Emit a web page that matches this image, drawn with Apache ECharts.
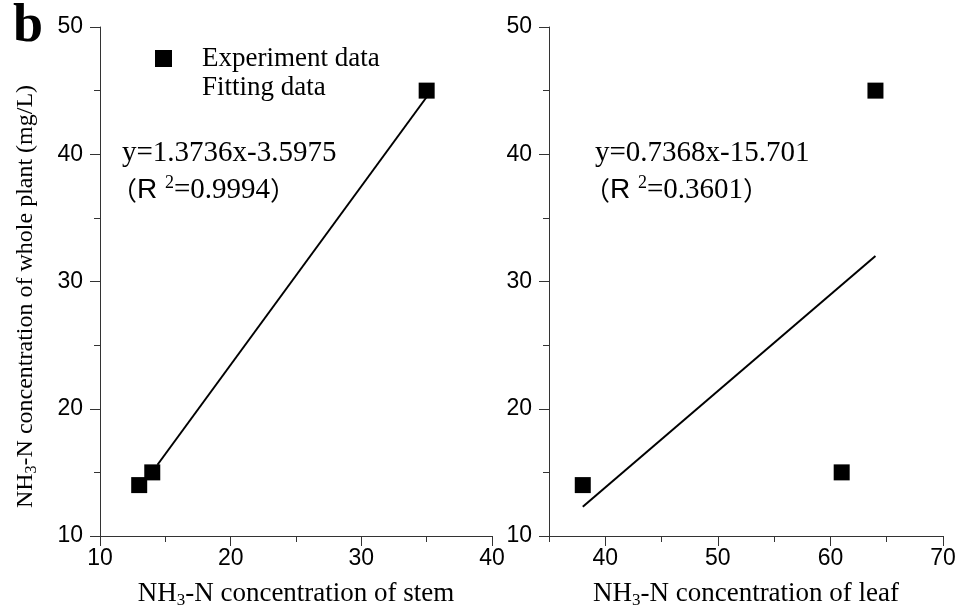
<!DOCTYPE html>
<html>
<head>
<meta charset="utf-8">
<script src="https://cdn.jsdelivr.net/npm/echarts@6/dist/echarts.min.js"></script>
<style>
    html, body { margin: 0; padding: 0; background: #fff; }
    #chart { width: 960px; height: 614px; }
</style>
</head>
<body>
<div id="chart"></div>
<script>
    // experiment data
    var stemX = [13, 14, 35]
    var stemY = [14, 15, 45]
    var leafX = [38, 61, 64]
    var leafY = [14, 15, 45]

    // end points of the fitted lines
    var stemFitX = [14.4, 35]
    var stemFitY = [15.6, 44.5]
    var leafFitX = [38, 64]
    var leafFitY = [12.3, 32]

    var leafMajor = [40, 50, 60, 70]
    var leafMinor = [35, 45, 55, 65]

    function pairs(xs, ys) {
        return xs.map(function (x, i) { return [x, ys[i]] })
    }

    var serif = '"Liberation Serif", "Times New Roman", serif'
    var sans = '"Liberation Sans", Arial, sans-serif'
    var axisColor = '#333'

    var nameRich = {
        a: { fontFamily: serif, fontSize: 27, color: '#000' },
        s: { fontFamily: serif, fontSize: 17, color: '#000', padding: [14, 0, 0, 0] }
    }
    var eqRich = {
        p: { fontFamily: '"Noto Sans CJK SC", sans-serif', fontSize: 26, color: '#000' },
        r: { fontFamily: sans, fontSize: 28, color: '#000' },
        sup: { fontFamily: serif, fontSize: 18, color: '#000', padding: [0, 0, 15, 0] },
        t: { fontFamily: serif, fontSize: 29, color: '#000' }
    }

    function xAxisBase(grid, min, max) {
        return {
            type: 'value',
            gridIndex: grid,
            min: min,
            max: max,
            position: 'bottom',
            splitLine: { show: false },
            axisLine: { show: true, lineStyle: { color: axisColor, width: 1 } },
            axisTick: { show: true, inside: false, length: 10, lineStyle: { color: axisColor } },
            axisLabel: { color: '#000', fontFamily: sans, fontSize: 23, margin: 11 },
            nameLocation: 'middle',
            nameGap: 42
        }
    }

    function yAxisBase(grid) {
        return {
            type: 'value',
            gridIndex: grid,
            min: 10,
            max: 50,
            interval: 10,
            splitLine: { show: false },
            axisLine: { show: true, lineStyle: { color: axisColor, width: 1 } },
            axisTick: { show: true, inside: false, length: 10, lineStyle: { color: axisColor } },
            minorTick: { show: true, splitNumber: 2, length: 6, lineStyle: { color: axisColor } },
            axisLabel: { color: '#000', fontFamily: sans, fontSize: 23, margin: 17 }
        }
    }

    var stemAxis = xAxisBase(0, 10, 40)
    stemAxis.interval = 10
    stemAxis.minorTick = { show: true, splitNumber: 2, length: 6, lineStyle: { color: axisColor } }
    stemAxis.name = '{a|NH}{s|3}{a|-N concentration of stem}'
    stemAxis.nameTextStyle = { rich: nameRich }

    var leafAxis = xAxisBase(1, 35, 70)
    leafAxis.axisTick.customValues = leafMajor
    leafAxis.axisLabel.customValues = leafMajor
    leafAxis.name = '{a|NH}{s|3}{a|-N concentration of leaf}'
    leafAxis.nameTextStyle = { rich: nameRich }

    // second axis on the right grid, only for the short ticks
    var leafMinorAxis = xAxisBase(1, 35, 70)
    leafMinorAxis.axisLine = { show: false }
    leafMinorAxis.axisLabel = { show: false }
    leafMinorAxis.axisTick = { show: true, length: 6, customValues: leafMinor, lineStyle: { color: axisColor } }

    var plantAxis = yAxisBase(0)
    plantAxis.name = '{a|NH}{s|3}{a|-N concentration of whole plant (mg/L)}'
    plantAxis.nameLocation = 'middle'
    plantAxis.nameGap = 60
    plantAxis.nameRotate = 90
    plantAxis.nameTextStyle = {
        rich: {
            a: { fontFamily: serif, fontSize: 24, color: '#000' },
            s: { fontFamily: serif, fontSize: 16, color: '#000', padding: [12, 0, 0, 0] }
        },
        padding: [0, 30, 0, 0]
    }

    var option = {
        animation: false,
        backgroundColor: '#fff',
        grid: [
            { left: 100, right: 468, top: 27, bottom: 77 },
            { left: 549, right: 17, top: 27, bottom: 77 }
        ],
        legend: {
            orient: 'vertical',
            left: 150,
            top: 40,
            itemWidth: 17,
            itemHeight: 17,
            itemGap: 2,
            textStyle: { fontFamily: serif, fontSize: 27, color: '#000', padding: [0, 0, 0, 25] },
            data: [
                { name: 'Experiment data', icon: 'rect' },
                { name: 'Fitting data', icon: 'none' }
            ]
        },
        xAxis: [stemAxis, leafAxis, leafMinorAxis],
        yAxis: [plantAxis, yAxisBase(1)],
        graphic: [
            { type: 'text', left: 13, top: 0, style: { text: 'b', font: 'bold 54px "Liberation Serif"', fill: '#000' } },
            { type: 'text', left: 122, top: 139, style: { text: 'y=1.3736x-3.5975', font: '29px "Liberation Serif"', fill: '#000' } },
            { type: 'text', left: 111, top: 174, style: { text: '{p|（}{r|R }{sup|2}{t|=0.9994}{p|）}', rich: eqRich } },
            { type: 'text', left: 595, top: 139, style: { text: 'y=0.7368x-15.701', font: '29px "Liberation Serif"', fill: '#000' } },
            { type: 'text', left: 584, top: 174, style: { text: '{p|（}{r|R }{sup|2}{t|=0.3601}{p|）}', rich: eqRich } }
        ],
        series: [
            {
                name: 'Fitting data',
                type: 'line',
                xAxisIndex: 0,
                yAxisIndex: 0,
                data: pairs(stemFitX, stemFitY),
                symbol: 'none',
                lineStyle: { color: '#000', width: 2 },
                itemStyle: { color: '#000' },
                z: 2
            },
            {
                name: 'Experiment data',
                type: 'scatter',
                xAxisIndex: 0,
                yAxisIndex: 0,
                data: pairs(stemX, stemY),
                symbol: 'rect',
                symbolSize: 16,
                itemStyle: { color: '#000', opacity: 1 },
                z: 3
            },
            {
                name: 'Fitting data',
                type: 'line',
                xAxisIndex: 1,
                yAxisIndex: 1,
                data: pairs(leafFitX, leafFitY),
                symbol: 'none',
                lineStyle: { color: '#000', width: 2 },
                itemStyle: { color: '#000' },
                z: 2
            },
            {
                name: 'Experiment data',
                type: 'scatter',
                xAxisIndex: 1,
                yAxisIndex: 1,
                data: pairs(leafX, leafY),
                symbol: 'rect',
                symbolSize: 16,
                itemStyle: { color: '#000', opacity: 1 },
                z: 3
            }
        ]
    }

    var chart = echarts.init(document.getElementById('chart'))
    chart.setOption(option)
</script>
</body>
</html>
